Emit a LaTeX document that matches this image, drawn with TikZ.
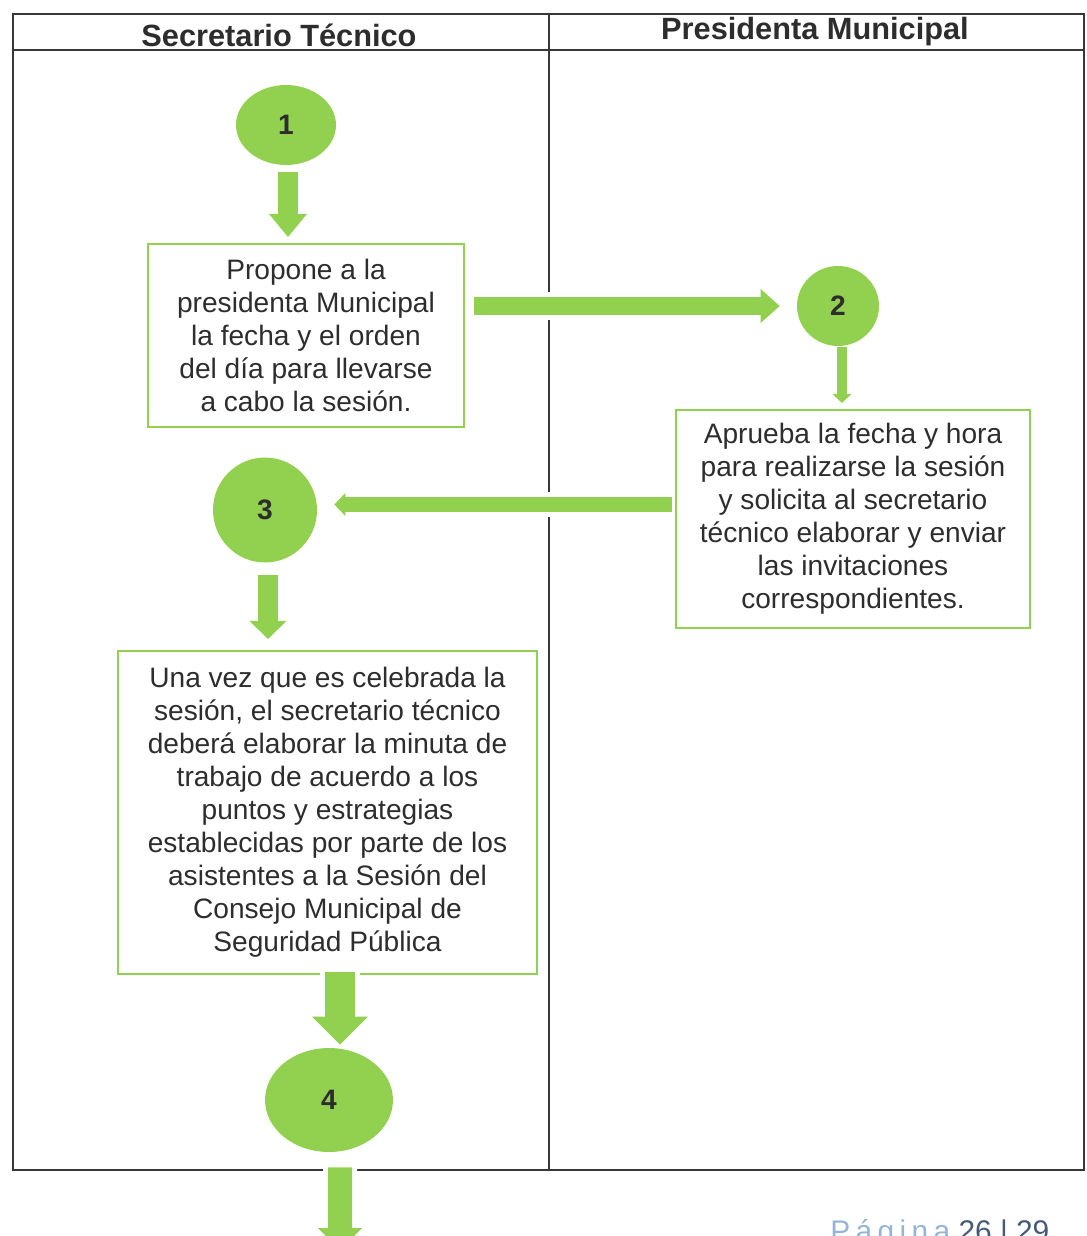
\documentclass[tikz,border=0pt]{standalone}
\usepackage{fontspec}
\setmainfont{Liberation Sans}
\usetikzlibrary{arrows.meta,shapes.geometric}
\definecolor{verde}{RGB}{146,208,80}
\definecolor{texto}{RGB}{45,45,45}
\definecolor{linea}{RGB}{55,55,55}
\definecolor{pagclaro}{RGB}{150,180,215}
\definecolor{pagoscuro}{RGB}{70,90,120}
\tikzset{
  caja/.style={draw=verde, line width=1.2pt, inner sep=0pt, align=center, text=texto,
    font=\fontsize{16}{18.8}\selectfont},
  paso/.style={ellipse, fill=verde, inner sep=0pt, text=texto,
    font=\bfseries\fontsize{16}{18}\selectfont},
  titulo/.style={text=texto, inner sep=0pt, font=\bfseries\fontsize{17.5}{20}\selectfont},
  flecha/.style n args={4}{draw=verde, line width=#1,
    preaction={draw=white, line width=#4},
    -{Triangle[width=#2, length=#3, line width=0pt]}}
}
\begin{document}
\begin{tikzpicture}[x=0.02cm, y=-0.02cm]
\useasboundingbox (0,0) rectangle (1086,1236);
% carriles
\draw[linea, line width=0.9pt] (13,14) rectangle (1084,1170);
\draw[linea, line width=0.9pt] (13,50) -- (1084,50);
\draw[linea, line width=0.9pt] (549,14) -- (549,1170);
\node[titulo] (t1) at (279,35) {Secretario Técnico};
\node[titulo] (t2) at (815,32) {Presidenta Municipal};
% pasos
\node[paso, minimum width=2cm, minimum height=1.6cm] (c1) at (286,125) {1};
\node[caja, minimum width=6.32cm, minimum height=3.66cm] (b1) at (306,335.5)
  {Propone a la\\presidenta Municipal\\la fecha y el orden\\del día para llevarse\\a cabo la sesión.};
\node[paso, minimum width=1.64cm, minimum height=1.6cm] (c2) at (838,306) {2};
\node[caja, minimum width=7.08cm, minimum height=4.36cm] (b2) at (853,519)
  {Aprueba la fecha y hora\\para realizarse la sesión\\y solicita al secretario\\técnico elaborar y enviar\\las invitaciones\\correspondientes.};
\node[paso, minimum width=2.08cm, minimum height=2.1cm] (c3) at (265,510) {3};
\node[caja, minimum width=8.38cm, minimum height=6.46cm] (b3) at (327.5,812.5)
  {Una vez que es celebrada la\\sesión, el secretario técnico\\deberá elaborar la minuta de\\trabajo de acuerdo a los\\puntos y estrategias\\establecidas por parte de los\\asistentes a la Sesión del\\Consejo Municipal de\\Seguridad Pública};
\node[paso, minimum width=2.56cm, minimum height=2.08cm] (c4) at (329,1100) {4};
\coordinate (fin) at (340,1250);
% flechas
\draw[flecha={0.4cm}{0.76cm}{0.46cm}{0.6cm}, shorten <=0.14cm, shorten >=0.12cm]
  ([xshift=0.04cm]c1.south) -- ([xshift=0.04cm]c1.south |- b1.north);
\draw[flecha={0.36cm}{0.68cm}{0.38cm}{0.56cm}, shorten <=0.18cm, shorten >=0.34cm]
  (b1.east |- c2.west) -- (c2.west);
\draw[flecha={0.2cm}{0.38cm}{0.18cm}{0.2cm}, shorten <=0.02cm, shorten >=0.12cm]
  ([xshift=0.08cm]c2.south) -- ([xshift=0.08cm]c2.south |- b2.north);
\draw[flecha={0.3cm}{0.46cm}{0.22cm}{0.5cm}, shorten <=0.06cm, shorten >=0.34cm]
  ([yshift=0.29cm]b2.west) -- ([yshift=0.29cm]b2.west -| c3.east);
\draw[flecha={0.4cm}{0.74cm}{0.36cm}{0.6cm}, shorten <=0.25cm, shorten >=0.22cm]
  ([xshift=0.06cm]c3.south) -- ([xshift=0.06cm]c3.south |- b3.north);
\draw[flecha={0.6cm}{1.12cm}{0.56cm}{0.8cm}, shorten <=-0.06cm, shorten >=0.06cm]
  ([xshift=0.25cm]b3.south) -- ([xshift=0.25cm]b3.south |- c4.north);
\draw[flecha={0.48cm}{0.88cm}{0.44cm}{0.68cm}, shorten <=0.3cm]
  ([xshift=0.22cm]c4.south) -- (fin);
% pie
\node[anchor=base west, inner sep=0pt, font=\fontsize{17}{20}\selectfont] (pagina) at (830,1241)
  {\textcolor{pagclaro}{\addfontfeature{LetterSpace=18}Página} \textcolor{pagoscuro}{26 | 29}};
\end{tikzpicture}
\end{document}
